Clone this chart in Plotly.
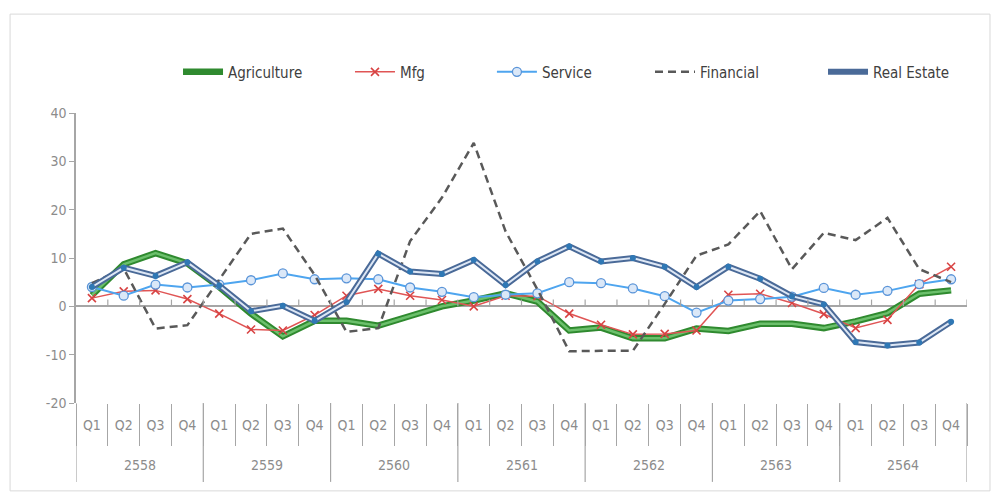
import plotly.graph_objects as go

# Quarterly growth by sector (%, year-on-year), Thai Buddhist-era years
years = ["2558", "2559", "2560", "2561", "2562", "2563", "2564"]
quarters = ["Q1", "Q2", "Q3", "Q4"]
y_ticks = [-20, -10, 0, 10, 20, 30, 40]

agriculture = [2.3, 8.7, 11.0, 8.9, 4.0, -1.5, -6.2, -3.0,
               -3.0, -4.0, -2.0, 0.0, 1.2, 2.7, 1.0, -5.0,
               -4.4, -6.6, -6.6, -4.6, -5.1, -3.6, -3.6, -4.5,
               -3.1, -1.4, 2.6, 3.3]
mfg = [1.7, 3.1, 3.3, 1.5, -1.5, -4.8, -5.0, -1.8,
       2.2, 3.6, 2.2, 1.3, 0.0, 2.2, 2.1, -1.5,
       -3.8, -5.8, -5.7, -5.0, 2.4, 2.6, 0.7, -1.6,
       -4.5, -2.8, 4.6, 8.2]
service = [4.0, 2.2, 4.5, 3.9, 4.5, 5.4, 6.8, 5.6,
           5.8, 5.6, 3.9, 3.0, 1.9, 2.4, 2.7, 5.0,
           4.8, 3.7, 2.1, -1.3, 1.2, 1.5, 2.0, 3.8,
           2.4, 3.2, 4.6, 5.6]
financial = [4.8, 7.8, -4.6, -3.9, 5.5, 15.0, 16.1, 6.5,
             -5.3, -4.5, 13.5, 22.5, 33.8, 15.5, 3.5, -9.3,
             -9.2, -9.2, 0.5, 10.5, 12.8, 19.7, 7.7, 15.2,
             13.7, 18.3, 7.7, 5.0]
real_estate = [4.0, 8.0, 6.3, 9.1, 4.3, -1.0, 0.1, -3.0,
               0.9, 10.9, 7.2, 6.7, 9.6, 4.4, 9.3, 12.4,
               9.3, 10.0, 8.2, 4.0, 8.2, 5.7, 2.1, 0.4,
               -7.4, -8.1, -7.5, -3.2]

quarter_labels = [q for _ in years for q in quarters]
n_cat = len(quarter_labels)
x = list(range(n_cat))
nq = len(quarters)

FONT = "Liberation Sans Narrow, DejaVu Sans Condensed, Noto Sans, sans-serif"
AXIS_GREY = "#a6a6a6"
TEXT_GREY = "#8c8c8c"

fig = go.Figure()

# Agriculture: dark green double line with a lighter green core
fig.add_trace(go.Scatter(x=x, y=agriculture, mode="lines", name="Agriculture",
                         line=dict(color="#2f8a2f", width=6.5), legend="legend"))
fig.add_trace(go.Scatter(x=x, y=agriculture, mode="lines", showlegend=False,
                         line=dict(color="#6cc06c", width=2.5)))

# Manufacturing
fig.add_trace(go.Scatter(x=x, y=mfg, mode="lines+markers", name="Mfg",
                         line=dict(color="#e05555", width=1.5),
                         marker=dict(symbol="x-thin", size=8,
                                     line=dict(color="#d84343", width=1.6)),
                         legend="legend2"))

# Service
fig.add_trace(go.Scatter(x=x, y=service, mode="lines+markers", name="Service",
                         line=dict(color="#4ea5ef", width=2),
                         marker=dict(symbol="circle", size=9, color="#dbe8f8",
                                     line=dict(color="#5a94d8", width=1.3)),
                         legend="legend3"))

# Financial
fig.add_trace(go.Scatter(x=x, y=financial, mode="lines", name="Financial",
                         line=dict(color="#595959", width=2.5, dash="8px,5px"),
                         legend="legend4"))

# Real estate: dark blue double line with light core and dot markers
fig.add_trace(go.Scatter(x=x, y=real_estate, mode="lines", name="Real Estate",
                         line=dict(color="#4a6a98", width=6), legend="legend5"))
fig.add_trace(go.Scatter(x=x, y=real_estate, mode="lines+markers", showlegend=False,
                         line=dict(color="#dde7f5", width=2),
                         marker=dict(symbol="circle", size=6, color="#2f78b5")))

legend_common = dict(orientation="h", yanchor="middle", y=1.141, xanchor="left",
                     font=dict(family=FONT, size=15, color="#404040"),
                     bgcolor="rgba(0,0,0,0)", itemwidth=40)

boundaries = [k - 0.5 for k in range(n_cat + 1)]
shapes = []
# upward tick marks along the zero line at category boundaries
for b in boundaries[1:]:
    shapes.append(dict(type="line", xref="x", yref="y",
                       x0=b, x1=b, y0=0, y1=1.4,
                       line=dict(color=AXIS_GREY, width=1.2)))
# year group dividers below the plot
for b in boundaries[::nq]:
    shapes.append(dict(type="line", xref="x", yref="paper",
                       x0=b, x1=b, y0=0, y1=-0.272,
                       line=dict(color=AXIS_GREY, width=1.2)))
# chart area border
shapes.append(dict(type="rect", xref="paper", yref="paper",
                   x0=-0.074, x1=1.0258, y0=-0.303, y1=1.341,
                   line=dict(color="#d9d9d9", width=1)))

# year labels centred under each group of quarters
annotations = [dict(x=i * nq + (nq - 1) / 2, y=-0.214, xref="x", yref="paper",
                    text=yr, showarrow=False, yanchor="middle",
                    font=dict(family=FONT, size=14, color=TEXT_GREY))
               for i, yr in enumerate(years)]

fig.update_layout(
    width=994, height=492,
    margin=dict(l=76, r=27, t=113, b=89),
    paper_bgcolor="white", plot_bgcolor="white",
    font=dict(family=FONT, color=TEXT_GREY),
    legend=dict(legend_common, x=0.1145),
    legend2=dict(legend_common, x=0.3075),
    legend3=dict(legend_common, x=0.4668),
    legend4=dict(legend_common, x=0.6442),
    legend5=dict(legend_common, x=0.8384),
    shapes=shapes,
    annotations=annotations,
    xaxis=dict(range=[-0.5, n_cat - 0.5], showline=False, showgrid=False,
               zeroline=False, tickmode="array", tickvals=x,
               ticktext=quarter_labels, ticks="", ticklabelstandoff=12,
               tickfont=dict(family=FONT, size=14, color=TEXT_GREY),
               minor=dict(tickmode="array", tickvals=boundaries,
                          ticks="outside", ticklen=42, tickcolor=AXIS_GREY,
                          tickwidth=1.2, showgrid=False)),
    yaxis=dict(range=[y_ticks[0], y_ticks[-1]], showgrid=False,
               tickmode="array", tickvals=y_ticks,
               ticktext=[str(v) for v in y_ticks],
               showline=True, linecolor=AXIS_GREY, linewidth=1.5,
               ticks="outside", ticklen=5, tickcolor=AXIS_GREY,
               zeroline=True, zerolinecolor=AXIS_GREY, zerolinewidth=2,
               tickfont=dict(family=FONT, size=14, color=TEXT_GREY)),
)

fig.write_html("out.html")
